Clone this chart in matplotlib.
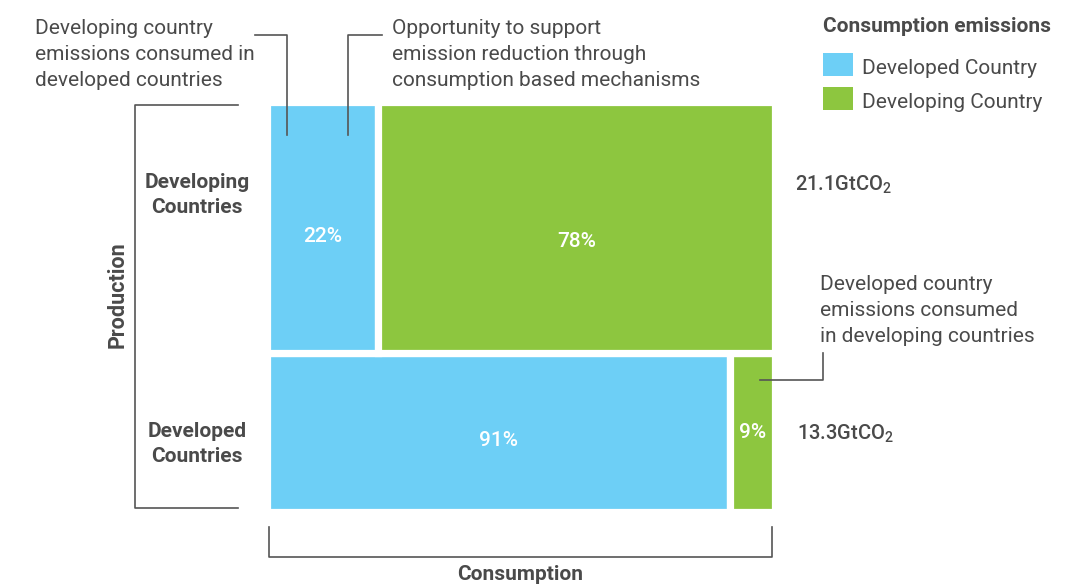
import matplotlib
matplotlib.use("Agg")
import matplotlib.pyplot as plt
from matplotlib.patches import Rectangle
from matplotlib.lines import Line2D

# production rows (bottom to top) and their totals
rows = ["Developed\nCountries", "Developing\nCountries"]
totals = [13.3, 21.1]  # GtCO2
total_labels = ["13.3GtCO$_2$", "21.1GtCO$_2$"]
# share consumed in developed / developing countries, per production row
share_developed = [91, 22]
share_developing = [9, 78]
series = ["Developed Country", "Developing Country"]
colors = ["#6dcff6", "#8dc63f"]

plt.rcParams["font.family"] = ["Roboto", "DejaVu Sans"]
plt.rcParams["mathtext.fontset"] = "custom"
plt.rcParams["mathtext.rm"] = "Roboto"
plt.rcParams["mathtext.default"] = "regular"

TXT = "#4a4a4a"
LINE = "#555555"
W, H = 1065, 585

fig = plt.figure(figsize=(W / 100, H / 100), dpi=100)


def px(x, y):
    return x / W, 1 - y / H


# mosaic axes, placed so the bars sit between the brackets
x0, x1, y0, y1 = 266.5, 775.5, 101.5, 511.5
ax = fig.add_axes([x0 / W, 1 - y1 / H, (x1 - x0) / W, (y1 - y0) / H])
ax.set_xlim(0, 100)
ax.set_ylim(0, sum(totals))
ax.axis("off")

# vertical nudge (points) of the percentage labels, per row: (left, right)
pct_dy = [(-6, 0), (-7, -10)]

bottom = 0
for i, tot in enumerate(totals):
    a, b = share_developed[i], share_developing[i]
    ax.add_patch(Rectangle((0, bottom), a, tot, facecolor=colors[0],
                           edgecolor="white", linewidth=5.2))
    ax.add_patch(Rectangle((a, bottom), b, tot, facecolor=colors[1],
                           edgecolor="white", linewidth=5.2))
    for xc, val, dy in [(a / 2, a, pct_dy[i][0]), (a + b / 2, b, pct_dy[i][1])]:
        ax.annotate(f"{val}%", (xc, bottom + tot / 2), xytext=(0, dy),
                    textcoords="offset points", color="white", fontsize=15,
                    fontweight="medium", ha="center", va="center")
    bottom += tot

# row labels and totals
fig.text(*px(197, 195), rows[1], ha="center", va="center", fontsize=15,
         fontweight="bold", color=TXT, linespacing=1.45)
fig.text(*px(197, 444), rows[0], ha="center", va="center", fontsize=15,
         fontweight="bold", color=TXT, linespacing=1.45)
fig.text(*px(795, 185), total_labels[1], ha="left", va="center",
         fontsize=14.5, fontweight="medium", color=TXT)
fig.text(*px(797, 434), total_labels[0], ha="left", va="center",
         fontsize=14.5, fontweight="medium", color=TXT)


def seg(points, lw=1.2):
    xs = [px(x, y)[0] for x, y in points]
    ys = [px(x, y)[1] for x, y in points]
    fig.add_artist(Line2D(xs, ys, color=LINE, linewidth=lw,
                          transform=fig.transFigure))


# brackets for the two axes
seg([(238, 105), (135, 105), (135, 508), (238, 508)])
seg([(269, 527), (269, 557), (772, 557), (772, 527)])
fig.text(*px(118, 295), "Production", rotation=90, ha="center",
         va="center", fontsize=15.5, fontweight="bold", color=TXT)
fig.text(*px(520, 575), "Consumption", ha="center", va="center",
         fontsize=15, fontweight="bold", color=TXT)

# callouts
note_kw = dict(ha="left", va="top", fontsize=15, color=TXT, linespacing=1.45)
fig.text(*px(35, 19), "Developing country\nemissions consumed in\n"
         "developed countries", **note_kw)
seg([(255, 35), (287, 35), (287, 135)])
fig.text(*px(392, 19), "Opportunity to support\nemission reduction through\n"
         "consumption based mechanisms", **note_kw)
seg([(382, 35), (348, 35), (348, 135)])
fig.text(*px(820, 275), "Developed country\nemissions consumed\n"
         "in developing countries", **note_kw)
seg([(823, 353), (823, 380), (760, 380)])

# legend
fig.text(*px(823, 27), "Consumption emissions", ha="left", va="center",
         fontsize=15, fontweight="bold", color=TXT)
for j, (lab, c) in enumerate(zip(series, colors)):
    yy = 53 + j * 34
    lx, ly = px(823, yy + 23)
    fig.add_artist(Rectangle((lx, ly), 30 / W, 23 / H, facecolor=c,
                             edgecolor="none", transform=fig.transFigure))
    fig.text(*px(862, yy + 15), lab, ha="left", va="center", fontsize=15,
             color=TXT)

fig.savefig("out.png", dpi=100)
